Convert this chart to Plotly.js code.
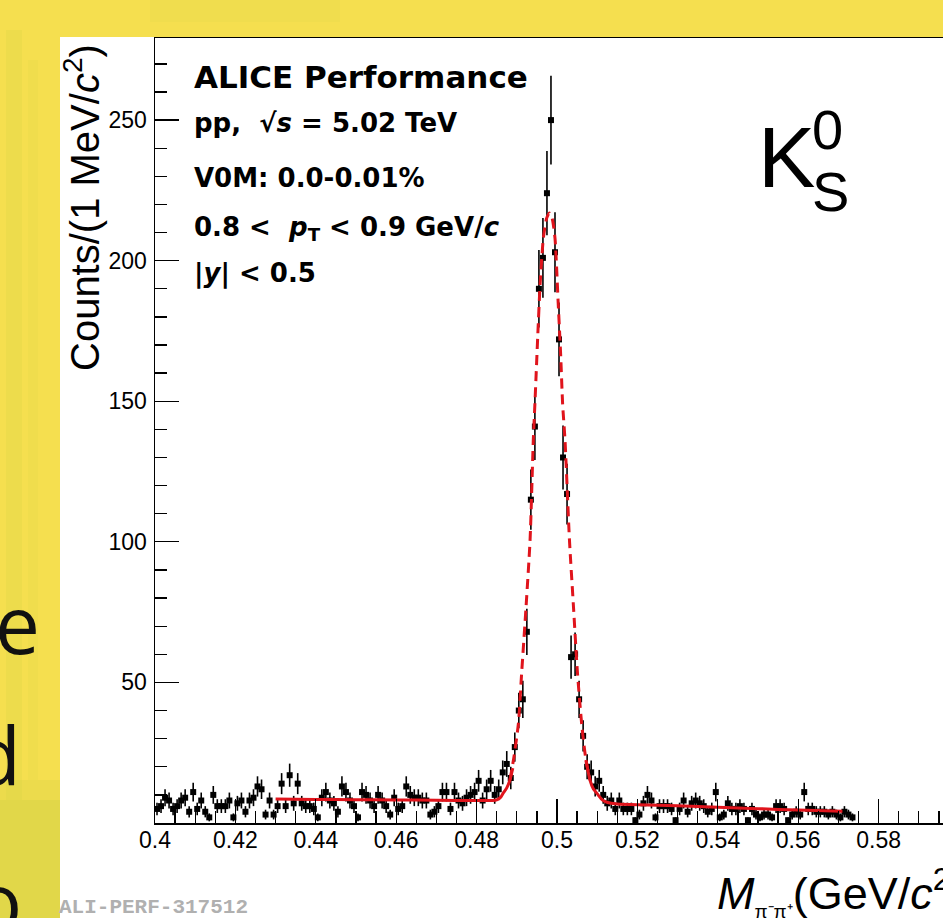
<!DOCTYPE html>
<html>
<head>
<meta charset="utf-8">
<script src="https://cdn.plot.ly/plotly-3.0.1.min.js"></script>
<style>
  html, body { margin: 0; padding: 0; overflow: hidden; background: #f5df4f; }
  #chart { width: 962px; height: 918px; }
</style>
</head>
<body>
<div id="chart"></div>
<script>
// Invariant-mass histogram of K0S -> pi- pi+ candidates, 1 MeV/c^2 bins from 0.400 GeV/c^2
const binLow = 0.400;
const binWidth = 0.001;
const counts = [
  5, 6, 9, 8, 5, 6, 8, 9, 4, 11,
  5, 8, 4, 2, 10, 6, 6, 6, 8, 2,
  7, 8, 4, 8, 9, 13, 12, 3, 8, 3,
  6, 14, 6, 17, 7, 14, 7, 6, 6, 5,
  2, 9, 11, 8, 7, 4, 13, 11, 8, 6,
  2, 11, 10, 8, 6, 10, 8, 6, 3, 9,
  5, 6, 13, 10, 9, 9, 8, 8, 3, 4,
  6, 11, 11, 5, 11, 8, 7, 9, 10, 11,
  15, 8, 12, 15, 10, 12, 18, 21, 16, 27,
  40, 44, 68, 115, 141, 190, 201, 224, 250, 203,
  172, 130, 117, 59, 60, 44, 31, 20, 18, 13,
  15, 10, 7, 8, 5, 8, 5, 5, 5, 1,
  3, 7, 10, 8, 2, 6, 6, 6, 5, 1,
  5, 8, 4, 7, 8, 7, 6, 4, 5, 11,
  2, 3, 7, 5, 5, 6, 5, 1, 5, 3,
  2, 3, 3, 2, 6, 6, 5, 1, 3, 4,
  3, 11, 5, 5, 4, 4, 4, 3, 4, 3,
  2, 4, 3, 2
];

// Fit function, side bands (solid) and signal region (dashed)
const fitLeftX  = [0.430, 0.440, 0.450, 0.460, 0.470, 0.480, 0.4840, 0.4850, 0.4860, 0.4866, 0.4875, 0.4883, 0.4890];
const fitLeftY  = [8.5, 8.4, 8.3, 8.2, 8.1, 8.0, 8.0, 8.2, 9.2, 10.6, 12.5, 15.3, 19.5];
const fitPeakX  = [0.4883, 0.4893, 0.4904, 0.4912, 0.4923, 0.4933, 0.4941, 0.4945, 0.4952, 0.4958, 0.4966, 0.4974,
                   0.4981, 0.4988, 0.4995, 0.5003, 0.5009, 0.5014, 0.5020, 0.5031, 0.5041, 0.5051, 0.5062, 0.5072, 0.5082];
const fitPeakY  = [15.3, 23.6, 35.4, 53.2, 76.9, 100.6, 136, 149, 172.8, 191.7, 208, 215,
                   217, 215, 208, 184.7, 166.9, 149, 136, 100.6, 76.9, 53.2, 34.3, 22.4, 15.3];
const fitRightX = [0.5072, 0.5082, 0.5090, 0.5099, 0.5110, 0.5120, 0.5135, 0.515, 0.520, 0.530, 0.540, 0.550, 0.560, 0.571];
const fitRightY = [22.4, 15.3, 12.3, 10.6, 8.6, 7.6, 7.0, 6.8, 6.5, 6.1, 5.6, 5.1, 4.6, 4.2];

const xTickVals = [0.40, 0.42, 0.44, 0.46, 0.48, 0.50, 0.52, 0.54, 0.56, 0.58, 0.60];
const xTickText = ['0.4', '0.42', '0.44', '0.46', '0.48', '0.5', '0.52', '0.54', '0.56', '0.58', '0.6'];
const yTickVals = [50, 100, 150, 200, 250];
const yTickText = ['50', '100', '150', '200', '250'];

// histogram bin centres and Poisson errors
const massCentres = counts.map((_, i) => +(binLow + (i + 0.5) * binWidth).toFixed(4));
const countErrors = counts.map(c => Math.sqrt(c));

// frame geometry (pixels) used to place the text boxes
const L = 155, T = 38, W = 804, H = 785, FIG_W = 962, FIG_H = 918;
const PX = px => (px - L) / W;
const PY = py => (T + H - py) / H;

const FONT = 'Liberation Sans, Arial, Helvetica, sans-serif';
const INFO_FONT = 'DejaVu Sans, Liberation Sans, sans-serif';
const SLIDE_FONT = 'Open Sans, sans-serif';
const RED = '#e0141c';

const traces = [
  {
    x: massCentres, y: counts, type: 'scatter', mode: 'markers',
    marker: { symbol: 'square', size: 6, color: '#000' },
    error_y: { type: 'data', array: countErrors, visible: true, thickness: 1.6, width: 0, color: '#000' },
    showlegend: false
  },
  { x: fitLeftX, y: fitLeftY, type: 'scatter', mode: 'lines',
    line: { color: RED, width: 3, shape: 'spline', smoothing: 0.6 }, showlegend: false },
  { x: fitRightX, y: fitRightY, type: 'scatter', mode: 'lines',
    line: { color: RED, width: 3, shape: 'spline', smoothing: 0.6 }, showlegend: false },
  { x: fitPeakX, y: fitPeakY, type: 'scatter', mode: 'lines',
    line: { color: RED, width: 3, dash: '10px,6px', shape: 'spline', smoothing: 0.6 }, showlegend: false }
];

const ann = (text, px, py, opts) => Object.assign({
  text: text, x: PX(px), y: PY(py), xref: 'paper', yref: 'paper',
  showarrow: false, xanchor: 'left', yanchor: 'middle', borderpad: 0,
  font: { family: INFO_FONT, size: 26, color: '#000' }
}, opts || {});

const annotations = [
  ann('<b>ALICE Performance</b>', 193, 77, { font: { family: INFO_FONT, size: 31, color: '#000' } }),
  ann('<b>pp,  √<i>s</i> = 5.02 TeV</b>', 193, 123),
  ann('<b>V0M: 0.0-0.01%</b>', 193, 178),
  ann('<b>0.8 <  <i>p</i><sub>T</sub> < 0.9 GeV/<i>c</i></b>', 193, 229),
  ann('<b>|<i>y</i>| < 0.5</b>', 193, 273),
  ann('K', 757, 157, { font: { family: FONT, size: 86, color: '#000' } }),
  ann('0', 811, 129, { font: { family: FONT, size: 56, color: '#000' } }),
  ann('S', 811, 192, { font: { family: FONT, size: 56, color: '#000' } }),
  ann('Counts/(1 MeV/<i>c</i><sup>2</sup>)', 82, 208,
      { textangle: -90, xanchor: 'center', font: { family: FONT, size: 40, color: '#000' } }),
  ann('<i>M</i><sub><span style="font-size:19px">π⁻π⁺</span></sub>(GeV/<i>c</i><sup>2</sup>)', 716, 891,
      { font: { family: FONT, size: 45, color: '#000' } }),
  ann('<b>ALI-PERF-317512</b>', 58, 907,
      { font: { family: 'Liberation Mono, Courier New, monospace', size: 21, color: '#b0b0b0' } }),
  // slide text peeking out at the left edge
  ann('e', 41, 622, { xanchor: 'right', font: { family: SLIDE_FONT, size: 80, color: '#111' } }),
  ann('d', 22, 753, { xanchor: 'right', font: { family: SLIDE_FONT, size: 80, color: '#111' } }),
  ann('o', 23, 899, { xanchor: 'right', font: { family: SLIDE_FONT, size: 80, color: '#111' } })
];

const rect = (x0, y0, x1, y1, fill, opacity) => ({
  type: 'rect', xref: 'paper', yref: 'paper', layer: 'below',
  x0: PX(x0), x1: PX(x1), y0: PY(y1), y1: PY(y0),
  fillcolor: fill, opacity: opacity, line: { width: 0 }
});

const shapes = [
  // soft greenish streaks of the slide background
  rect(6, 30, 22, 800, '#d6d242', 0.25),
  rect(28, 60, 38, 780, '#dcd647', 0.18),
  rect(0, 800, 60, 918, '#cfd045', 0.55),
  rect(0, 780, 60, 800, '#d6d445', 0.3),
  rect(150, 0, 340, 22, '#e2d84a', 0.25),
  // white canvas of the figure
  rect(60, 37, FIG_W + 10, FIG_H + 10, '#ffffff', 1)
];

const layout = {
  width: FIG_W, height: FIG_H,
  margin: { l: L, r: FIG_W - L - W, t: T, b: FIG_H - T - H },
  paper_bgcolor: '#f5df4f', plot_bgcolor: '#ffffff',
  showlegend: false,
  xaxis: {
    range: [0.4, 0.6], tickmode: 'array', tickvals: xTickVals, ticktext: xTickText,
    ticks: 'inside', ticklen: 24, tickwidth: 1.3, tickcolor: '#000',
    showline: true, linecolor: '#000', linewidth: 1.5, mirror: true,
    showgrid: false, zeroline: false,
    tickfont: { family: FONT, size: 23, color: '#000' },
    ticklabelstandoff: -4,
    minor: { tickmode: 'linear', tick0: 0.4, dtick: 0.005, ticks: 'inside', ticklen: 12,
             tickwidth: 1.3, tickcolor: '#000', showgrid: false }
  },
  yaxis: {
    range: [0, 279.2], tickmode: 'array', tickvals: yTickVals, ticktext: yTickText,
    ticks: 'inside', ticklen: 24, tickwidth: 1.3, tickcolor: '#000',
    showline: true, linecolor: '#000', linewidth: 1.5, mirror: true,
    showgrid: false, zeroline: false,
    tickfont: { family: FONT, size: 23, color: '#000' },
    ticklabelstandoff: 2,
    minor: { tickmode: 'linear', tick0: 0, dtick: 10, ticks: 'inside', ticklen: 12,
             tickwidth: 1.3, tickcolor: '#000', showgrid: false }
  },
  annotations: annotations,
  shapes: shapes
};

Plotly.newPlot('chart', traces, layout, { staticPlot: true, displayModeBar: false });
</script>
</body>
</html>
